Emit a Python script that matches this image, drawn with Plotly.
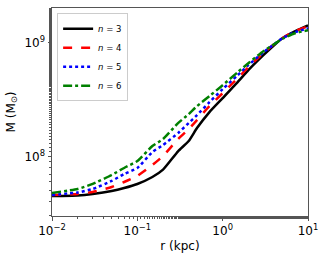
import plotly.graph_objects as go

r_kpc = [0.01, 0.02, 0.03, 0.05, 0.07, 0.1, 0.15, 0.2, 0.3, 0.4, 0.5, 0.7, 1.0, 1.5, 2.0, 3.0, 4.0, 5.0, 7.0, 10.0]

m_n3 = [4.48e7, 4.53e7, 4.67e7, 4.96e7, 5.27e7, 5.72e7, 6.59e7, 7.65e7, 1.110e8, 1.366e8,
        1.777e8, 2.458e8, 3.263e8, 4.512e8, 5.754e8, 7.796e8, 9.546e8, 1.100e9, 1.267e9, 1.431e9]
m_n4 = [4.58e7, 4.67e7, 4.86e7, 5.38e7, 5.95e7, 6.72e7, 8.40e7, 1.008e8, 1.422e8, 1.742e8,
        2.090e8, 2.775e8, 3.611e8, 4.893e8, 6.114e8, 8.118e8, 9.74e8, 1.100e9, 1.267e9, 1.403e9]
m_n5 = [4.58e7, 4.81e7, 5.17e7, 6.08e7, 7.00e7, 7.91e7, 1.093e8, 1.260e8, 1.606e8, 1.967e8,
        2.312e8, 3.010e8, 3.915e8, 5.199e8, 6.368e8, 8.284e8, 9.74e8, 1.100e9, 1.242e9, 1.347e9]
m_n6 = [4.77e7, 5.17e7, 5.72e7, 6.86e7, 7.91e7, 9.11e7, 1.235e8, 1.422e8, 1.967e8, 2.360e8,
        2.775e8, 3.398e8, 4.246e8, 5.525e8, 6.631e8, 8.453e8, 9.74e8, 1.089e9, 1.217e9, 1.293e9]

series_names = ["<i>n</i> = 3", "<i>n</i> = 4", "<i>n</i> = 5", "<i>n</i> = 6"]
series_vals = [m_n3, m_n4, m_n5, m_n6]
colors = ["#000000", "#ff0000", "#0000ff", "#008000"]
dashes = ["solid", "dash", "dot", "dashdot"]

x_tickvals = [0.01, 0.1, 1, 10]
x_ticktext = ["10<sup>−2</sup>", "10<sup>−1</sup>", "10<sup>0</sup>", "10<sup>1</sup>"]
y_tickvals = [1e8, 1e9]
y_ticktext = ["10<sup>8</sup>", "10<sup>9</sup>"]

fig = go.Figure()
for name, vals, c, d in zip(series_names, series_vals, colors, dashes):
    fig.add_trace(go.Scatter(x=r_kpc, y=vals, mode="lines", name=name,
                             line=dict(color=c, width=2.5, dash=d, shape="spline", smoothing=0.5)))

axis_common = dict(
    showline=True, linecolor="#555555", linewidth=1, mirror=True,
    ticks="outside", ticklen=3.5, tickwidth=1, tickcolor="#555555",
    showgrid=False, zeroline=False, automargin=False,
    tickfont=dict(family="DejaVu Sans", size=12, color="#000000"),
    minor=dict(ticks="outside", ticklen=2, tickwidth=0.8, tickcolor="#555555", showgrid=False),
)

fig.update_xaxes(type="log", range=[-2, 1], tickvals=x_tickvals, ticktext=x_ticktext,
                 title=dict(text="r (kpc)", font=dict(family="DejaVu Sans", size=12, color="#000000"), standoff=4),
                 **axis_common)
fig.update_yaxes(type="log", range=[7.475, 9.308], tickvals=y_tickvals, ticktext=y_ticktext,
                 title=dict(text="M (M<sub>⊙</sub>)", font=dict(family="DejaVu Sans", size=12, color="#000000"), standoff=6),
                 **axis_common)

fig.update_layout(
    width=326, height=257,
    margin=dict(l=52, r=18, t=8, b=41, autoexpand=False),
    paper_bgcolor="white", plot_bgcolor="white",
    showlegend=True,
    legend=dict(x=0.02, y=0.975, xanchor="left", yanchor="top",
                bgcolor="rgba(255,255,255,0.8)", bordercolor="#cccccc", borderwidth=1,
                font=dict(family="DejaVu Sans", size=8.5, color="#000000"),
                tracegroupgap=0, itemwidth=30),
)

fig.write_html("out.html", config={"displayModeBar": False},
               post_script="document.body.style.margin='0';document.body.style.overflow='hidden';")
